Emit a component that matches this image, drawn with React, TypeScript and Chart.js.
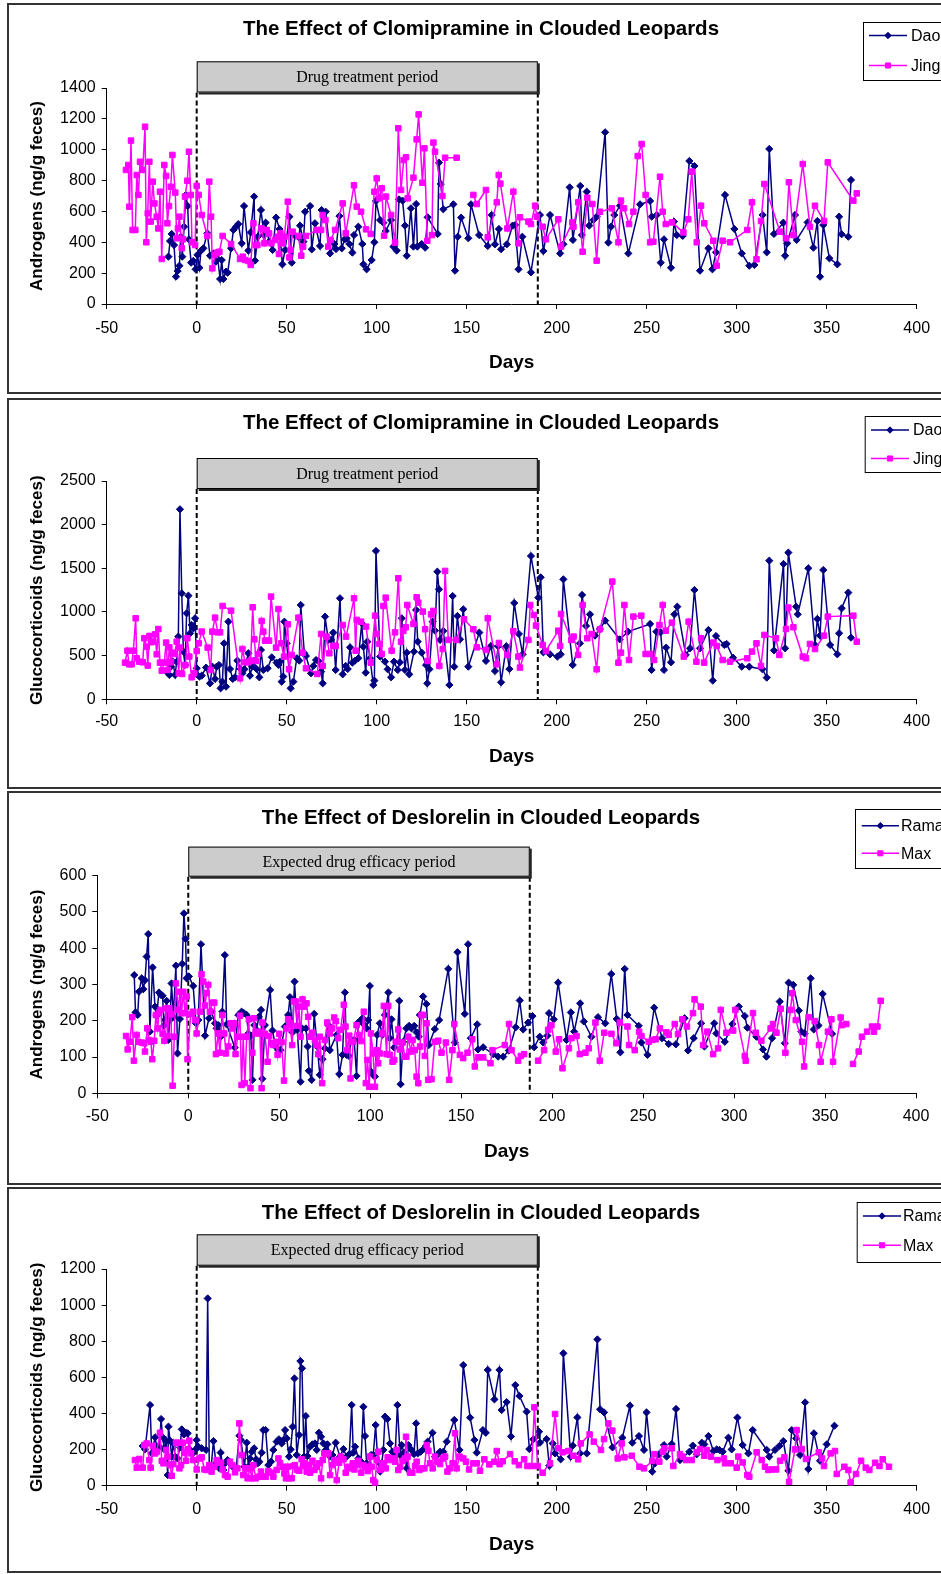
import React, { useEffect, useRef } from 'react';
import { Chart, registerables } from 'chart.js';

Chart.register(...registerables);

type Pt = [number, number | null];

// ---------- Clomipramine: Androgens (ng/g feces) ----------
const daoAndrogens: Pt[] = [[-15.7,307],[-14.8,408],[-13.9,454],[-12.6,382],[-11.5,177],[-10.6,214],[-9.6,248],[-8.9,436],[-8,307],[-7,501],[-6.1,707],[-5,635],[-4.3,419],[-3.1,268],[-1.9,279],[-0.6,225],[0.4,318],[1.5,235],[2.4,346],[3.7,361],[5.9,458],[7.4,313],[9.3,328],[10.6,274],[11.7,292],[13,162],[13.9,285],[14.8,162],[16.3,210],[17.2,203],[19.1,361],[20.4,480],[21.9,501],[23.1,518],[25,393],[26.3,635],[28.7,346],[30,464],[31.9,696],[32.4,281],[33.9,436],[35.7,609],[37.4,447],[38.3,527],[40.2,404],[42.2,350],[44.1,560],[46,486],[47.6,257],[49.1,350],[51.5,566],[52.8,268],[54.6,443],[56.9,430],[57.4,508],[59.3,404],[60.2,598],[63,635],[63.9,354],[65.7,523],[68.5,376],[69.4,609],[71.7,598],[74.1,328],[76.5,389],[77.4,356],[79.3,570],[80.6,361],[82.2,419],[83.3,425],[84.8,389],[86.5,333],[87.4,447],[89.8,501],[92,389],[92.6,257],[94.4,225],[97.2,285],[98.7,400],[99.6,668],[101.9,544],[103.7,527],[105,473],[108,544],[109.3,372],[111.1,346],[112.4,678],[114.4,670],[115.7,508],[116.7,313],[119,620],[120.4,372],[121.9,648],[122.6,372],[125,389],[126.9,365],[128.3,562],[133.9,454],[134.6,916],[135.6,778],[137,614],[142.6,646],[143.5,216],[145,436],[146.9,560],[150.9,426],[152.4,646],[156.9,447],[161.7,376],[163.9,577],[165.7,387],[167.9,486],[169.1,355],[172.3,387],[175.5,508],[176.9,512],[178.8,225],[180.9,436],[185.7,205],[190.7,577],[192.6,343],[196.3,577],[201.9,328],[203.7,387],[207.2,756],[209,415],[213.1,765],[214,447],[216.7,728],[218.1,508],[220.4,544],[222.2,566],[226.9,1113],[228.7,398],[230.2,501],[232,577],[235.2,637],[239.8,328],[246.3,646],[251.9,668],[252.8,566],[255.6,577],[257.8,268],[259.6,419],[263.5,235],[265.2,534],[266.7,447],[270,441],[273.7,927],[276.5,894],[279.6,216],[284.3,361],[286.5,225],[288.5,335],[293.5,707],[298.7,486],[302.8,328],[307,248],[309.8,253],[314.4,577],[316.7,335],[318.1,1005],[320.7,454],[325.9,527],[326.9,313],[328.1,393],[332.4,577],[333.3,415],[339.4,529],[342.6,365],[344.8,538],[346.3,177],[348.1,512],[351.5,296],[355.9,257],[356.9,566],[358.3,452],[362,436],[363.5,804]];

const jingAndrogens: Pt[] = [[-39.3,869],[-38,901],[-37.4,631],[-36.5,1059],[-35.6,480],[-34.1,480],[-33.3,836],[-32.4,707],[-31.5,922],[-30,869],[-28.7,1149],[-28,400],[-27.2,588],[-26.3,922],[-25.6,534],[-24.4,793],[-23.5,652],[-22.2,566],[-21.3,490],[-20.4,728],[-19.4,292],[-18,901],[-17,830],[-16.3,523],[-15.4,635],[-14.4,760],[-13.5,966],[-11.9,722],[-11.1,426],[-10.4,490],[-9.6,566],[-8.3,361],[-7.6,419],[-6.5,696],[-5.2,799],[-4.3,987],[-3.3,707],[-2.6,400],[-0.9,382],[0,765],[1.1,707],[2.8,577],[5.9,441],[7,793],[8,566],[8.7,231],[10.2,318],[11.5,333],[12.6,339],[14.4,441],[19.1,389],[24.1,292],[25.6,307],[26.9,285],[28.7,279],[30,253],[31.5,523],[32.8,382],[33.7,382],[35.9,490],[37.6,393],[38.9,480],[40.2,458],[41.5,393],[43.5,415],[45,436],[45.7,324],[46.5,458],[47.8,393],[48.7,436],[50.6,663],[51.5,302],[52.2,350],[53.3,469],[56.5,441],[58.1,313],[59.1,372],[60.7,441],[66.7,480],[69.1,480],[70,577],[71.5,544],[73.1,372],[74.4,415],[76.9,480],[81.1,652],[82.8,458],[87.4,769],[88.9,631],[91.3,598],[94.1,484],[96.7,454],[98.7,728],[100,814],[101.3,685],[102.8,750],[104.1,443],[105.2,696],[108,577],[110.2,398],[112,1139],[113.5,739],[115,933],[116.3,951],[117.2,685],[120.4,819],[122.2,1067],[123.3,1229],[125.4,786],[126.5,1009],[128.1,410],[130.7,447],[131.5,1046],[132.4,987],[136.5,700],[138,948],[144.4,948],[149,null],[153.7,707],[155.6,648],[160.7,739],[161.7,432],[166.7,659],[167.8,836],[168.7,780],[172.6,490],[175.9,728],[178.7,393],[179.6,562],[184.3,534],[185.7,518],[188,637],[189,566],[192.2,501],[194,419],[200.9,549],[202.4,372],[208.7,529],[209.3,501],[212,659],[214.4,339],[217,689],[219.8,648],[222.2,281],[224,598],[230.6,620],[234.3,400],[235.7,670],[237.4,620],[240.2,518],[242.6,598],[245,959],[247.2,1037],[249.4,707],[251.9,400],[253.7,404],[257.4,825],[258.9,598],[260.6,518],[264,529],[270.4,464],[273.1,549],[275,858],[277.8,400],[280.2,637],[282,523],[287,410],[288.9,248],[292.2,410],[296.3,400],[305.9,480],[308.5,659],[311,290],[313.5,538],[315.4,778],[324,469],[327.4,426],[329,789],[331.5,447],[336.7,907],[340.7,501],[343.5,637],[348.5,538],[350.6,918],[364.8,670],[366.7,717]];

// ---------- Clomipramine: Glucocorticoids (ng/g feces) ----------
const daoGluco: Pt[] = [[-16.7,317],[-15.2,279],[-14.3,374],[-13.3,431],[-12,279],[-11.1,431],[-10.2,718],[-9.3,2176],[-8.3,1214],[-7.4,546],[-6.5,393],[-5.6,985],[-4.6,1187],[-3.7,756],[-2.8,851],[-1.9,813],[-0.9,928],[0,355],[1.5,260],[2.8,271],[5.2,363],[7.4,183],[8.7,374],[10.2,233],[11.1,374],[12.4,393],[13.3,126],[14.3,202],[15.2,641],[16.3,145],[17.6,889],[18.5,347],[20,233],[21.3,252],[22.6,443],[24.4,347],[25.4,298],[26.5,344],[28.7,527],[29.6,271],[30.9,374],[32,439],[33.3,347],[34.8,252],[35.7,565],[37,336],[39.4,355],[41.7,481],[44.4,420],[45.4,393],[46.3,431],[47.2,202],[48.1,260],[48.7,889],[50,641],[52.2,126],[53.7,202],[55.6,470],[57,443],[57.8,1080],[59.8,527],[60.7,496],[63.5,298],[64.8,382],[66.3,450],[67.6,439],[69.1,317],[70,183],[71.3,947],[73.1,680],[74.6,680],[75.9,764],[77.2,336],[79.6,1157],[81.1,286],[82.8,382],[83.9,347],[85.2,595],[86.5,420],[88,443],[89.8,470],[91.7,870],[92.6,603],[93.9,305],[94.8,660],[96.3,470],[98.1,164],[98.7,214],[99.6,1699],[101.9,489],[104.6,431],[106.1,344],[108,252],[109.6,431],[111.7,336],[112.9,424],[113.9,928],[115.7,336],[116.7,534],[118.1,286],[120.7,546],[121.9,1023],[122.8,660],[125,534],[127.4,393],[128.1,183],[129.3,344],[131.1,889],[132.4,786],[133.7,1462],[134.6,1260],[135.2,680],[137,783],[140.4,164],[142.2,1183],[143.1,374],[144.8,954],[146.3,687],[148.1,1031],[150.9,374],[157,764],[160.7,439],[163.5,611],[165.7,324],[167.5,607],[169.1,195],[172,607],[173.7,347],[176.4,1103],[179,748],[181.1,515],[185.7,1641],[189.8,1164],[191.1,1397],[192.6,538],[196.3,515],[200.4,489],[202.2,515],[203.7,1374],[208.9,393],[212.9,641],[214.1,1195],[216.3,840],[218.5,973],[221.3,729],[224,805],[226.9,901],[235,687],[239.6,775],[251.9,863],[252.7,336],[255.4,775],[257.7,767],[259.6,336],[260.8,592],[263.5,424],[265.4,973],[267,1061],[271.7,508],[274.1,584],[276.5,1252],[279.6,584],[284.3,794],[286.7,214],[288.5,725],[293.1,622],[294.4,634],[298,477],[302.8,374],[307,374],[314.3,344],[316.7,248],[318.1,1588],[320.7,560],[326,1550],[326.9,584],[328.7,1680],[333,1061],[333.9,973],[339.8,1500],[343.5,622],[344.8,920],[346.3,729],[348.1,1481],[351.9,622],[355.9,515],[356.9,756],[358.3,1042],[362,1222],[363.5,706]];

const jingGluco: Pt[] = [[-39.8,420],[-38.5,557],[-37.6,401],[-36.1,401],[-35.2,557],[-33.9,928],[-33.3,470],[-31.9,431],[-30,424],[-29.1,699],[-27.8,603],[-27.2,386],[-26.3,725],[-25.4,653],[-24.1,660],[-23.1,744],[-22.2,515],[-21.3,805],[-20.4,420],[-19.4,328],[-18,420],[-17,649],[-16.1,336],[-15.2,595],[-14.3,424],[-13.3,534],[-12.2,519],[-11.1,660],[-10,298],[-9.3,592],[-8.1,290],[-6.3,393],[-5.2,699],[-4.1,489],[-2.8,252],[-1.5,298],[0,553],[1.1,641],[2.8,775],[6.1,592],[7.8,336],[8.7,775],[10.2,935],[11.7,767],[13,767],[14.4,1069],[19.1,1015],[24.1,240],[25.4,576],[26.9,424],[28.7,424],[30,443],[31.1,1054],[32,687],[33,439],[34,519],[36.1,897],[37,775],[38,672],[40.2,672],[41.3,1176],[44.1,592],[45.4,1034],[46.9,641],[48.5,489],[50.6,859],[51.3,344],[52.8,508],[56.5,935],[58.9,534],[60.7,355],[67,290],[69.1,748],[70,382],[72.2,718],[73.7,527],[75.9,611],[77.2,611],[81.1,851],[83,718],[87.4,1157],[88.3,557],[88.9,909],[91.3,889],[94.1,832],[96.7,420],[99.1,958],[100,748],[101.5,634],[102.8,519],[103.7,1069],[105,1164],[108.3,557],[110.2,767],[112,1386],[113.5,660],[114.8,783],[116.1,825],[117,1080],[120.4,863],[122.2,1168],[123.1,1107],[125.6,1004],[126.9,802],[128.3,439],[130.2,973],[131.5,1012],[134.8,382],[136.7,576],[138,1470],[139.8,680],[144.1,680],[148.5,916],[153.7,802],[155.6,595],[160.7,565],[161.7,928],[166.7,401],[167.9,645],[172.6,508],[175.9,780],[178.7,489],[179.6,363],[184.3,680],[185.3,1080],[187.4,966],[188.5,844],[192.2,622],[194,553],[200.9,786],[201.9,611],[202.4,977],[208.1,680],[209.4,718],[211.9,508],[214.4,1080],[217,699],[219.4,748],[222.2,344],[224,802],[230.9,1348],[234.3,420],[235.7,534],[237.6,1080],[240.2,450],[242.6,947],[247,958],[249.4,519],[251.9,519],[254.1,450],[257.1,851],[258.9,1080],[260.6,786],[264,878],[270.6,489],[273.3,889],[277.6,431],[280.2,699],[281.9,420],[287,649],[288.9,611],[292.2,450],[296.3,431],[305.9,470],[308.5,546],[311,641],[313.5,382],[315.4,737],[321.8,699],[323.7,508],[327.4,805],[328.7,1050],[331.5,825],[336.7,489],[338.5,470],[340.7,634],[343.5,576],[348.5,729],[350.6,947],[364.8,958],[366.7,660]];

// ---------- Deslorelin: Androgens (ng/g feces) ----------
const ramaAndrogens: Pt[] = [[-29.7,326],[-29,223],[-27.8,216],[-27.1,280],[-25.6,317],[-24.7,287],[-23.8,312],[-22.9,377],[-22,439],[-21.1,170],[-19.6,347],[-18.3,239],[-17.4,214],[-16.1,278],[-15,271],[-14.1,269],[-13.4,187],[-12.8,202],[-11.9,255],[-11,147],[-10.1,202],[-9.2,303],[-8.2,211],[-6.8,352],[-5.9,110],[-4.6,205],[-3.3,357],[-2.4,496],[-1.5,426],[-0.9,317],[0.4,322],[2.7,296],[4.2,193],[5.5,202],[7,411],[9.2,159],[11.4,207],[12.8,225],[14.7,193],[15.6,179],[16.5,188],[17.8,156],[18.7,225],[20.1,381],[21.1,190],[25.6,126],[27.5,216],[29.3,225],[30.6,221],[32.1,216],[33,165],[34.4,159],[35.3,37],[36.3,188],[37.5,175],[38.8,211],[40,230],[40.7,40],[42.1,188],[45,285],[46.3,173],[48,129],[49.5,119],[50.7,119],[53.1,184],[54.9,216],[55.9,265],[57.3,168],[58.4,308],[59.9,175],[61.7,32],[62.6,179],[64.7,179],[65.6,129],[66.3,62],[67.8,37],[69.2,219],[70.9,129],[72.3,51],[73.8,94],[75.1,124],[76.9,188],[77.8,119],[81.5,161],[83,53],[84.8,106],[86.1,278],[87,106],[88.3,103],[89.7,147],[91.2,147],[92.5,48],[93.4,195],[94.9,202],[95.8,207],[96.5,190],[98,179],[98.9,202],[99.8,296],[100.4,60],[101.6,51],[102.6,46],[103.8,161],[105.3,193],[106.6,161],[108.1,216],[110,278],[110.8,152],[111.7,204],[113.2,126],[114.8,142],[116,255],[116.7,25],[118.1,142],[119.9,179],[121.4,186],[122.7,179],[124.2,186],[125.5,168],[126.7,156],[127.3,216],[129.1,267],[130.9,246],[132.2,133],[135.5,177],[137.9,202],[142.9,343],[146.5,140],[148,389],[152,219],[153.8,411],[155.3,152],[158.8,190],[159.3,121],[162.1,127],[167.6,108],[170.3,101],[173.1,101],[176.2,118],[180,182],[182.2,256],[184.1,176],[186.8,195],[189.2,213],[190.1,127],[193.2,156],[195.1,140],[197.4,159],[198.3,221],[200.9,204],[203.3,305],[207.9,147],[210.3,223],[212.1,170],[215.4,248],[217.4,198],[221.6,156],[225.2,210],[229.2,193],[232.5,329],[235.5,205],[237.5,113],[239.9,343],[241.4,216],[247.6,186],[249.1,140],[252.4,106],[256.1,236],[260.4,152],[264.1,136],[268,135],[272.8,207],[274.7,118],[277.8,152],[281.9,193],[283.7,129],[289.1,193],[290.3,165],[294.9,142],[299.1,191],[302.6,239],[305.9,213],[307.3,181],[312.3,156],[315.9,121],[317.8,101],[320.9,152],[325.1,253],[327.9,138],[330,305],[332.5,299],[335.6,228],[337,170],[338.8,165],[342.1,317],[343.8,176],[346.4,187],[348.7,274],[353.9,164]];

const maxAndrogens: Pt[] = [[-34.2,158],[-33.3,121],[-32.1,142],[-30.8,210],[-29.9,90],[-28.4,161],[-27.5,142],[-25.6,140],[-24.2,138],[-23.8,115],[-22.5,179],[-21.6,147],[-20.5,142],[-19.8,94],[-18.7,145],[-17.8,216],[-16.8,179],[-16.1,222],[-15.2,230],[-14.1,164],[-13.2,145],[-12.3,234],[-11.4,158],[-10.4,234],[-9.5,218],[-8.6,21],[-7.7,156],[-6.8,303],[-5.5,230],[-4.6,280],[-3.7,221],[-2.7,280],[-1.8,221],[-0.9,267],[-0.4,94],[1.3,219],[2.7,225],[3.7,202],[4.6,165],[6.4,225],[7.3,328],[8.2,308],[9.2,242],[10.1,276],[11,299],[11.9,225],[13.4,250],[14.3,250],[15.2,108],[16.5,165],[17.4,112],[18.7,216],[19.8,165],[20.7,110],[22,129],[23.3,193],[24.4,179],[25.1,193],[26,108],[27.1,156],[28.4,214],[29.3,23],[30.2,156],[31.1,28],[32.1,156],[33.3,204],[34.2,14],[35.2,112],[36.1,207],[37,165],[38.5,170],[39.4,165],[40.3,14],[40.8,195],[42.1,164],[43.6,87],[44.5,158],[45.8,138],[46.7,133],[48.2,142],[49.1,106],[50,164],[51.3,141],[52.6,35],[54,179],[54.9,204],[55.9,193],[57.1,133],[58.1,253],[59.2,253],[59.9,186],[60.8,239],[61.7,156],[62.8,259],[63.7,239],[65,248],[65.9,211],[66.8,156],[68.3,167],[69.6,147],[70.5,133],[71.4,108],[72.3,156],[73.6,28],[75.1,147],[76.4,195],[77.8,165],[79.1,179],[80.2,209],[81.1,199],[82.4,152],[83.7,175],[85.5,244],[86.4,184],[87.4,119],[88.5,159],[89.2,41],[90.7,142],[92.5,188],[94,161],[95.2,144],[96.5,225],[97.6,28],[98.5,92],[99.5,18],[100.4,165],[101.6,110],[102.6,18],[103.5,119],[104.4,83],[105.3,110],[106.6,165],[107.5,241],[109,108],[109.9,241],[110.8,106],[112.3,87],[113.2,92],[114.1,142],[115.4,176],[116.3,121],[117.8,140],[119,101],[119.9,101],[120.9,156],[122.3,115],[123.3,147],[124.5,119],[125.5,46],[126.4,28],[127.4,129],[128.2,216],[129.1,216],[130,103],[131,193],[131.9,37],[133.7,39],[135.5,142],[137.4,145],[139.2,112],[141.6,140],[143.4,37],[145.2,119],[146.2,191],[149.3,106],[151.1,97],[153.5,112],[156.1,149],[157.5,74],[159.3,99],[162.1,99],[166.1,83],[167.2,119],[174,133],[176.3,191],[177.7,119],[181.3,90],[182.8,103],[184.6,108],[188,null],[192.3,90],[195.6,119],[197.8,175],[199.6,188],[202,115],[203.8,149],[205.7,69],[209.2,124],[210.6,152],[213.4,158],[215.2,108],[218.3,112],[220.1,124],[223.8,195],[226.2,90],[228.6,167],[232.6,164],[235.3,138],[237.2,195],[241.4,184],[242.3,133],[245.4,119],[247.8,170],[249.1,158],[253.1,142],[254.9,147],[256.9,149],[259.2,179],[262.8,168],[264.1,161],[267.4,191],[269.2,163],[271.6,204],[274.1,184],[277.4,221],[278.3,259],[281.7,239],[283,133],[285.2,170],[288.5,108],[291.2,124],[292.7,230],[295.8,167],[299.5,173],[300.7,230],[305.9,103],[306.4,90],[310.4,221],[311.9,167],[315,145],[320.1,179],[321.4,191],[323.3,167],[325.6,233],[328.2,112],[331,230],[332,276],[333.9,202],[337.4,142],[338.5,74],[341,210],[344.3,199],[346.7,133],[347.6,87],[351.6,170],[353.5,204],[354.4,87],[358.6,209],[359.3,188],[361.7,191],[363.5,null],[365.4,81],[368.5,115],[370.3,156],[373.1,170],[375.8,184],[376.9,170],[378.8,184],[380.6,255]];

// ---------- Deslorelin: Glucocorticoids (ng/g feces) ----------
const ramaGluco: Pt[] = [[-30,220],[-28.7,201],[-25.9,447],[-25,179],[-23.1,268],[-22.2,216],[-20.7,216],[-19.8,369],[-18.9,268],[-18,201],[-17,247],[-16.1,59],[-15.7,327],[-14.8,249],[-13.9,161],[-13,234],[-12,161],[-10.7,151],[-9.3,212],[-8.3,312],[-7,284],[-5.9,293],[-5,290],[-3.7,198],[-2.2,179],[-0.9,198],[0,253],[0.9,216],[2.8,207],[5.2,198],[6.1,1037],[7,96],[7.9,87],[9.3,247],[10.7,124],[12.6,96],[13.3,183],[14.8,87],[15.7,124],[17.2,142],[18.5,124],[20,105],[21.9,96],[23.7,277],[24.6,253],[26.5,105],[27.8,238],[28.7,105],[29.6,151],[30.6,188],[31.9,207],[33,146],[33.9,124],[34.8,133],[36.1,183],[37,308],[38.3,308],[39.8,114],[41.3,133],[42.6,198],[44.4,244],[45.7,257],[47.2,234],[48.1,253],[49.1,308],[50,262],[51.3,161],[52.2,201],[53.3,327],[54.3,594],[55.6,170],[56.9,281],[57.6,690],[58.5,650],[59.6,161],[60.6,386],[61.5,164],[63,216],[64.3,229],[65.7,234],[66.7,198],[67.9,293],[69.1,271],[70.4,234],[71.7,198],[72.6,229],[74.1,161],[75.4,170],[77.2,238],[79.6,161],[81.5,203],[83.3,161],[84.8,175],[86.1,447],[87,183],[88,216],[89.8,151],[91.3,133],[92.6,437],[93.5,275],[94.4,124],[95.9,96],[96.9,170],[98.1,170],[99.4,336],[100.6,133],[101.9,78],[102.8,124],[103.7,198],[104.6,382],[105.9,369],[107.4,234],[108.7,188],[110.2,161],[111.5,447],[113,170],[113.9,225],[115.2,183],[116.7,96],[117.6,225],[119.4,198],[120.7,175],[121.9,345],[122.8,179],[124.4,188],[125.9,201],[127.4,220],[128.3,244],[131,293],[132.4,161],[133.7,170],[135.2,188],[137,188],[138.9,244],[143.1,364],[146,198],[148.1,668],[151.9,377],[154.3,253],[155.6,183],[159,308],[160.6,293],[161.7,641],[165.4,478],[168.2,641],[169.4,419],[172.2,463],[174.6,273],[177,557],[179.3,497],[183.3,410],[184.8,203],[187,257],[190.2,299],[190.7,238],[194.4,258],[195.9,111],[197.8,234],[199.1,179],[202.2,146],[203.7,733],[207.8,161],[208.9,222],[211.5,378],[213,179],[216.7,179],[222.6,810],[224.1,423],[226.3,406],[231,212],[236.5,266],[240.7,443],[242,238],[245.7,275],[248.5,198],[249.9,406],[253.1,78],[254.6,124],[256.9,175],[259.6,225],[261.1,161],[263.9,231],[266.3,425],[268.5,142],[273.7,188],[275.6,222],[277.8,174],[280.6,238],[282,229],[284.3,275],[287,192],[288.9,201],[290.4,198],[292.2,188],[295.4,266],[297.2,201],[300.4,377],[303.3,225],[306.5,179],[308.9,308],[316.7,198],[318.1,161],[321.3,198],[323.7,220],[325.9,247],[328.7,83],[330.6,308],[333,262],[335.2,170],[338,461],[339.8,92],[342.9,290],[346.3,138],[350,229],[354.3,332]];

const maxGluco: Pt[] = [[-34.3,142],[-33.3,100],[-31.9,148],[-30,100],[-29.1,225],[-27.8,234],[-26.3,142],[-25.6,100],[-24.4,220],[-23.1,179],[-22.2,188],[-20.4,293],[-19.4,138],[-18.5,124],[-17,198],[-16.1,161],[-14.8,114],[-13.9,55],[-13,120],[-11.5,238],[-10.6,238],[-9.6,96],[-8.7,114],[-7.8,238],[-6.9,183],[-5.9,138],[-5,201],[-4.1,249],[-3.1,179],[-1.9,142],[0,90],[1.5,151],[2.8,157],[4.3,90],[5.6,87],[7,114],[8.3,78],[9.8,105],[11.1,142],[12.4,127],[13.5,127],[14.4,90],[15.7,59],[17.2,50],[18.5,133],[19.8,114],[21.3,74],[22.6,96],[23.7,345],[25,170],[25.9,59],[27.4,96],[28.3,41],[29.6,96],[30.6,41],[31.5,114],[32.8,41],[34.3,50],[35.7,78],[37,50],[38.3,50],[39.8,81],[41.1,72],[42.6,50],[44.4,87],[45.4,151],[46.3,124],[47.8,105],[48.7,68],[49.6,41],[50.6,105],[51.5,41],[52.8,41],[53.7,109],[54.6,114],[55.9,87],[57,83],[58.3,146],[59.3,109],[60.2,124],[61.1,78],[62,114],[63,72],[64.3,138],[65.4,87],[66.7,105],[67.9,124],[69.1,41],[70,142],[70.9,179],[72.2,175],[73.1,179],[74.1,59],[75.4,114],[76.5,142],[77.8,31],[79.1,127],[80,161],[81.5,146],[82.8,72],[84.3,105],[85.6,96],[86.7,124],[87.6,90],[88.5,114],[89.8,138],[91.3,72],[92.6,114],[93.9,105],[95,81],[96.3,161],[97.2,105],[98.1,31],[99.1,17],[100,142],[100.9,188],[101.9,87],[102.8,105],[103.7,124],[105,96],[106.1,157],[107.4,142],[108.7,151],[110.2,133],[111.1,198],[112,87],[113,105],[114.4,137],[115.7,151],[116.3,271],[117.2,161],[118.5,72],[119.8,72],[121.3,109],[122.2,133],[123.7,87],[125,96],[126.5,96],[127.8,225],[128.7,194],[129.6,124],[131.1,96],[132.4,161],[133.7,133],[135.2,120],[136.7,151],[138,161],[139.3,78],[140.7,96],[142.2,124],[143.5,290],[144.4,96],[146,161],[148.1,151],[149.6,133],[151.3,90],[153.7,124],[155.6,124],[157.4,83],[159.8,146],[162.6,118],[165.4,133],[166.7,192],[168.3,119],[170,135],[174.1,175],[176.7,135],[179,114],[181.9,146],[183.7,109],[186.1,109],[187.6,434],[189.4,109],[192.2,72],[196.3,124],[199.1,397],[200.9,207],[203.3,185],[206.5,192],[209.3,166],[211.9,146],[213.4,234],[218.3,284],[220.6,244],[224.6,198],[226.3,258],[228.7,345],[230.9,305],[233.9,151],[236.1,234],[237.6,157],[241.7,166],[246,105],[248.5,96],[253.1,137],[254.3,175],[257,133],[258.9,188],[259.8,207],[263.9,207],[264.8,109],[268.5,175],[270,161],[271.9,142],[275,142],[277.8,185],[279.6,203],[282,166],[283.3,198],[285.7,161],[289.3,142],[292.9,151],[293.5,124],[296.7,124],[300,100],[300.9,161],[303.3,129],[305.9,59],[307,50],[311.1,185],[313.9,142],[315.7,105],[317.6,87],[319.4,90],[321.9,90],[324.1,138],[326.5,157],[329.1,22],[332.4,201],[333.3,308],[336.1,203],[338.5,148],[345.6,185],[347.4,151],[348.5,109],[352.2,179],[354.6,192],[355.6,65],[359.8,105],[362,87],[363.3,18],[366.3,65],[369.1,138],[371.7,100],[373.7,87],[376.9,127],[379.3,109],[381.1,146],[384.6,105]];

// ---------- Axis ranges / labels ----------
const X_MIN = -50;
const X_MAX = 400;
const X_STEP = 50;
const clomiTitle = 'The Effect of Clomipramine in Clouded Leopards';
const deslTitle = 'The Effect of Deslorelin in Clouded Leopards';

// ---------- styling ----------
const SANS = '"Liberation Sans", Arial, Helvetica, sans-serif';
const SERIF = '"Liberation Serif", "Times New Roman", serif';
const NAVY = '#000080';
const MAGENTA = '#FF00FF';
const TICK_SIZE = 16;
const TITLE_SIZE = 20.5;
const YTITLE_SIZE = 17;
const XTITLE_SIZE = 19;
const PAGE_W = 941;

type Series = { label: string; points: Pt[]; color: string; style: string; radius: number };
type Spec = {
  key: string;
  top: number; bottom: number;
  plotLeft: number; plotRight: number; plotTop: number; plotBottom: number;
  title: string; titleY: number;
  yTitle: string; yTitleX: number; yMax: number; yStep: number;
  tickLabelY: number; xTitleY: number;
  boxLabel: string; boxStart: number; boxEnd: number; boxTop: number; boxBottom: number;
  legLeft: number; legTop: number; legBottom: number; legRows: number[];
  legLine1: number; legLine2: number; legText: number;
  series: Series[];
};

const diamond = (label: string, points: Pt[]): Series => ({ label, points, color: NAVY, style: 'rectRot', radius: 3.6 });
const square = (label: string, points: Pt[]): Series => ({ label, points, color: MAGENTA, style: 'rect', radius: 3.9 });

const specs: Spec[] = [
  {
    key: 'p1', top: 3, bottom: 394,
    plotLeft: 106.7, plotRight: 916.7, plotTop: 88, plotBottom: 304,
    title: clomiTitle, titleY: 29,
    yTitle: 'Androgens (ng/g feces)', yTitleX: 37, yMax: 1400, yStep: 200,
    tickLabelY: 328.4, xTitleY: 362.5,
    boxLabel: 'Drug treatment period', boxStart: 0, boxEnd: 189.5, boxTop: 61.3, boxBottom: 92.5,
    legLeft: 863, legTop: 22, legBottom: 80, legRows: [35.5, 65.5], legLine1: 869, legLine2: 907, legText: 911,
    series: [diamond('Dao', daoAndrogens), square('Jing', jingAndrogens)],
  },
  {
    key: 'p2', top: 398, bottom: 789,
    plotLeft: 106.7, plotRight: 916.7, plotTop: 481, plotBottom: 699.3,
    title: clomiTitle, titleY: 423.8,
    yTitle: 'Glucocorticoids (ng/g feces)', yTitleX: 37, yMax: 2500, yStep: 500,
    tickLabelY: 722, xTitleY: 757,
    boxLabel: 'Drug treatment period', boxStart: 0, boxEnd: 189.5, boxTop: 458, boxBottom: 489,
    legLeft: 864.7, legTop: 416, legBottom: 472, legRows: [430, 458.5], legLine1: 871, legLine2: 909, legText: 913,
    series: [diamond('Dao', daoGluco), square('Jing', jingGluco)],
  },
  {
    key: 'p3', top: 791, bottom: 1185,
    plotLeft: 97.3, plotRight: 916, plotTop: 875.7, plotBottom: 1093.3,
    title: deslTitle, titleY: 818.5,
    yTitle: 'Androgens (ng/g feces)', yTitleX: 37, yMax: 600, yStep: 100,
    tickLabelY: 1117, xTitleY: 1152,
    boxLabel: 'Expected drug efficacy period', boxStart: 0, boxEnd: 187.7, boxTop: 846.6, boxBottom: 876.7,
    legLeft: 855, legTop: 809, legBottom: 868, legRows: [825.7, 853.3], legLine1: 861.7, legLine2: 899, legText: 901,
    series: [diamond('Rama', ramaAndrogens), square('Max', maxAndrogens)],
  },
  {
    key: 'p4', top: 1187, bottom: 1573,
    plotLeft: 106.7, plotRight: 916.7, plotTop: 1269, plotBottom: 1485.7,
    title: deslTitle, titleY: 1213.2,
    yTitle: 'Glucocorticoids (ng/g feces)', yTitleX: 37, yMax: 1200, yStep: 200,
    tickLabelY: 1509.5, xTitleY: 1544.6,
    boxLabel: 'Expected drug efficacy period', boxStart: 0, boxEnd: 189.5, boxTop: 1234.3, boxBottom: 1265.7,
    legLeft: 856.7, legTop: 1202, legBottom: 1262, legRows: [1216, 1245.3], legLine1: 863, legLine2: 901, legText: 903,
    series: [diamond('Rama', ramaGluco), square('Max', maxGluco)],
  },
];

function drawMarker(ctx: CanvasRenderingContext2D, style: string, x: number, y: number, r: number, color: string) {
  ctx.beginPath();
  if (style === 'rectRot') {
    ctx.moveTo(x - r, y); ctx.lineTo(x, y - r); ctx.lineTo(x + r, y); ctx.lineTo(x, y + r); ctx.closePath();
  } else {
    const s = r * Math.SQRT1_2;
    ctx.rect(x - s, y - s, 2 * s, 2 * s);
  }
  ctx.fillStyle = color; ctx.fill();
  ctx.strokeStyle = color; ctx.lineWidth = 1; ctx.stroke();
}

function makeDecor(spec: Spec) {
  const off = spec.top;
  return {
    id: 'decor_' + spec.key,
    beforeDatasetsDraw(chart: any) {
      const { ctx, chartArea, scales } = chart;
      ctx.save();
      ctx.strokeStyle = '#000';
      ctx.lineWidth = 2;
      ctx.setLineDash([5, 3]);
      [spec.boxStart, spec.boxEnd].forEach((d) => {
        const px = scales.x.getPixelForValue(d);
        ctx.beginPath();
        ctx.moveTo(px, spec.boxBottom - off);
        ctx.lineTo(px, chartArea.bottom);
        ctx.stroke();
      });
      ctx.restore();
    },
    afterDraw(chart: any) {
      const { ctx, scales } = chart;
      ctx.save();
      // annotation box
      const x1 = scales.x.getPixelForValue(spec.boxStart);
      const x2 = scales.x.getPixelForValue(spec.boxEnd);
      const y1 = spec.boxTop - off;
      const y2 = spec.boxBottom - off;
      ctx.fillStyle = '#222';
      ctx.fillRect(x1 + 2, y1 + 2, x2 - x1, y2 - y1);
      ctx.fillStyle = '#cccccc';
      ctx.fillRect(x1, y1, x2 - x1, y2 - y1);
      ctx.strokeStyle = '#000';
      ctx.lineWidth = 1;
      ctx.strokeRect(x1 + 0.5, y1 + 0.5, x2 - x1 - 1, y2 - y1 - 1);
      ctx.fillStyle = '#000';
      ctx.font = `16px ${SERIF}`;
      ctx.textAlign = 'center';
      ctx.textBaseline = 'middle';
      ctx.fillText(spec.boxLabel, (x1 + x2) / 2, (y1 + y2) / 2 + 1);

      // chart title
      ctx.font = `bold ${TITLE_SIZE}px ${SANS}`;
      ctx.fillText(spec.title, 481, spec.titleY - off);

      // legend
      const lt = spec.legTop - off;
      const lb = spec.legBottom - off;
      ctx.fillStyle = '#fff';
      ctx.fillRect(spec.legLeft, lt, 200, lb - lt);
      ctx.strokeStyle = '#000';
      ctx.lineWidth = 1;
      ctx.strokeRect(spec.legLeft + 0.5, lt + 0.5, 200, lb - lt);
      spec.series.forEach((s, i) => {
        const ry = spec.legRows[i] - off;
        ctx.strokeStyle = s.color;
        ctx.lineWidth = 1.5;
        ctx.beginPath();
        ctx.moveTo(spec.legLine1, ry);
        ctx.lineTo(spec.legLine2, ry);
        ctx.stroke();
        drawMarker(ctx, s.style, (spec.legLine1 + spec.legLine2) / 2, ry, s.style === 'rectRot' ? 3.2 : 3.6, s.color);
        ctx.fillStyle = '#000';
        ctx.font = `16px ${SANS}`;
        ctx.textAlign = 'left';
        ctx.textBaseline = 'middle';
        ctx.fillText(s.label, spec.legText, ry + 1);
      });
      ctx.restore();
    },
  };
}

function Panel({ spec }: { spec: Spec }) {
  const ref = useRef<HTMLCanvasElement | null>(null);
  const H = spec.bottom - spec.top;
  useEffect(() => {
    const canvas = ref.current;
    if (!canvas) return;
    const off = spec.top;
    const plotTop = spec.plotTop - off;
    const plotBottom = spec.plotBottom - off;
    const xTitleLH = XTITLE_SIZE * 1.2;
    const xH = spec.xTitleY - off + xTitleLH / 2 - plotBottom;
    const padBottom = H - plotBottom - xH;
    const yTitleLH = YTITLE_SIZE * 1.2;
    const tickLH = TICK_SIZE * 1.2;
    const tickFont = { family: SANS, size: TICK_SIZE, weight: 'normal' as const };

    const chart = new Chart(canvas, {
      type: 'line',
      data: {
        datasets: spec.series.map((s, i) => ({
          label: s.label,
          data: [...s.points].sort((a, b) => a[0] - b[0]).map(([x, y]) => ({ x, y })),
          borderColor: s.color,
          backgroundColor: s.color,
          borderWidth: 1.5,
          pointStyle: s.style as any,
          pointRadius: s.radius,
          pointHoverRadius: s.radius,
          pointBorderWidth: 1,
          pointBackgroundColor: s.color,
          pointBorderColor: s.color,
          tension: 0,
          spanGaps: false,
          fill: false,
          order: i === 0 ? 1 : 0,
        })),
      },
      options: {
        animation: false,
        responsive: false,
        maintainAspectRatio: false,
        events: [],
        layout: { padding: { left: 0, right: PAGE_W - spec.plotRight, top: plotTop, bottom: padBottom } },
        plugins: { legend: { display: false }, title: { display: false }, tooltip: { enabled: false } },
        scales: {
          x: {
            type: 'linear',
            min: X_MIN,
            max: X_MAX,
            afterFit: (s: any) => { s.height = xH; },
            ticks: {
              stepSize: X_STEP,
              autoSkip: false,
              maxRotation: 0,
              color: '#000',
              font: tickFont,
              padding: spec.tickLabelY - spec.plotBottom - 5 - tickLH / 2,
              callback: (v: any) => String(v),
            },
            grid: { drawOnChartArea: false, drawTicks: true, tickLength: 5, color: '#000', lineWidth: 1 },
            border: { display: true, color: '#000', width: 1 },
            title: {
              display: true,
              text: 'Days',
              color: '#000',
              font: { family: SANS, size: XTITLE_SIZE, weight: 'bold' },
              padding: { top: 0, bottom: 0 },
            },
          },
          y: {
            type: 'linear',
            min: 0,
            max: spec.yMax,
            afterFit: (s: any) => { s.width = spec.plotLeft; },
            ticks: {
              stepSize: spec.yStep,
              color: '#000',
              font: tickFont,
              padding: 6,
              callback: (v: any) => String(v),
            },
            grid: { drawOnChartArea: false, drawTicks: true, tickLength: 5, color: '#000', lineWidth: 1 },
            border: { display: true, color: '#000', width: 1 },
            title: {
              display: true,
              text: spec.yTitle,
              color: '#000',
              font: { family: SANS, size: YTITLE_SIZE, weight: 'bold' },
              padding: { top: spec.yTitleX - yTitleLH / 2, bottom: 0 },
            },
          },
        },
      } as any,
      plugins: [makeDecor(spec)],
    });
    return () => chart.destroy();
  }, []);

  return (
    <>
      <div
        style={{
          position: 'absolute',
          left: 7,
          top: spec.top,
          width: 1000,
          height: H,
          border: '2px solid #333',
          boxSizing: 'border-box',
          background: '#fff',
        }}
      />
      <canvas
        ref={ref}
        width={PAGE_W}
        height={H}
        style={{ position: 'absolute', left: 0, top: spec.top, width: PAGE_W, height: H }}
      />
    </>
  );
}

export default function App() {
  return (
    <div
      style={{
        position: 'absolute',
        left: 0,
        top: 0,
        width: PAGE_W,
        height: 1574,
        overflow: 'hidden',
        background: '#fff',
      }}
    >
      {specs.map((s) => (
        <Panel key={s.key} spec={s} />
      ))}
    </div>
  );
}
